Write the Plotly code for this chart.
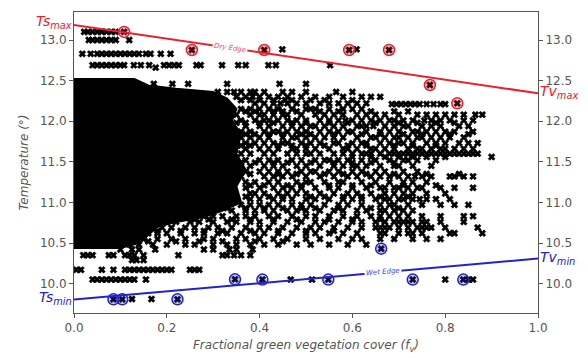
import plotly.graph_objects as go

# ---- edge endpoints (temperature at fv=0 and fv=1) ----
ts_max = 13.185
tv_max = 12.344
ts_min = 9.803
tv_min = 10.308

# ---- saturated core of the point cloud (boundary of fully black area) ----
core_x = [0.0, 0.13, 0.16, 0.22, 0.30, 0.33, 0.35, 0.34, 0.36, 0.35, 0.37, 0.35, 0.36, 0.32, 0.28,
          0.22, 0.18, 0.16, 0.14, 0.10, 0.0]
core_y = [12.52, 12.52, 12.44, 12.40, 12.36, 12.28, 12.15, 12.0, 11.85, 11.6, 11.4, 11.2, 11.0, 10.9,
          10.82, 10.76, 10.70, 10.6, 10.5, 10.44, 10.44]

# ---- sparse pixels, stored as temperature rows ----
row_levels = [13.10, 13.00, 12.885, 12.83, 12.69, 12.66, 12.46,
              12.36, 12.30, 12.26, 12.22, 12.21, 12.15, 12.12, 12.08, 12.01, 11.98, 11.94, 11.87, 11.84,
              11.80, 11.73, 11.70, 11.66, 11.60, 11.56, 11.52, 11.49, 11.45, 11.38, 11.35, 11.32, 11.25,
              11.21, 11.18, 11.11, 11.07, 11.04, 10.97, 10.93, 10.90, 10.83, 10.79, 10.76, 10.69, 10.65,
              10.62, 10.55, 10.52, 10.48, 10.42, 10.35, 10.29, 10.17, 10.05, 9.81]
row_fv = [
    [0.022, 0.03, 0.04, 0.05, 0.06, 0.07, 0.08, 0.09],                                        # 13.10
    [0.032, 0.04, 0.05, 0.06, 0.07, 0.08, 0.09, 0.119],                                       # 13.00
    [0.449, 0.609],                                                                           # 12.885
    [0.018, 0.036, 0.05, 0.06, 0.07, 0.08, 0.09, 0.10, 0.11, 0.12, 0.13, 0.14, 0.155, 0.165,
     0.187, 0.208],                                                                           # 12.83
    [0.04, 0.05, 0.06, 0.07, 0.08, 0.09, 0.10, 0.108, 0.129, 0.144, 0.162, 0.194, 0.205, 0.216,
     0.226, 0.264, 0.273, 0.319, 0.354, 0.37, 0.419, 0.435, 0.552],                           # 12.69
    [0.176],                                                                                  # 12.66
    [0.172, 0.212, 0.246, 0.33, 0.443, 0.5],                                                  # 12.46
    [0.31, 0.33, 0.345, 0.36, 0.38, 0.39, 0.41, 0.45, 0.47, 0.50, 0.565, 0.60],               # 12.36
    [0.35, 0.37, 0.385, 0.40, 0.42, 0.44, 0.46, 0.49, 0.52, 0.55, 0.58, 0.62, 0.64, 0.66],    # 12.30
    [0.36, 0.38, 0.40, 0.43, 0.455, 0.47, 0.51, 0.54, 0.60],                                  # 12.26
    [0.39, 0.41, 0.43, 0.445, 0.46, 0.48, 0.5, 0.53, 0.55, 0.57, 0.59, 0.61, 0.63],           # 12.22
    [0.685, 0.695, 0.705, 0.715, 0.725, 0.735, 0.745, 0.76, 0.775, 0.79, 0.80],               # 12.21
    [0.36, 0.38, 0.40, 0.42, 0.44, 0.47, 0.50, 0.51, 0.52, 0.55, 0.58, 0.60, 0.62],           # 12.15
    [0.37, 0.39, 0.43, 0.45, 0.48, 0.53, 0.57, 0.64, 0.69, 0.72],                            # 12.12
    [0.35, 0.38, 0.40, 0.41, 0.43, 0.45, 0.46, 0.49, 0.52, 0.54, 0.56, 0.58, 0.61, 0.63, 0.65,
     0.67, 0.70, 0.74, 0.76, 0.78, 0.80, 0.82, 0.84, 0.865, 0.88],                            # 12.08
    [0.36, 0.39, 0.41, 0.42, 0.44, 0.46, 0.48, 0.50, 0.53, 0.55, 0.57, 0.585, 0.60, 0.62, 0.64,
     0.66, 0.68, 0.69, 0.71, 0.73, 0.755, 0.77, 0.79, 0.81, 0.84, 0.86],                      # 12.01
    [0.35, 0.37, 0.40, 0.43, 0.47, 0.50, 0.55, 0.59, 0.65, 0.70, 0.74, 0.78, 0.82],           # 11.98
    [0.37, 0.40, 0.42, 0.45, 0.47, 0.49, 0.51, 0.52, 0.54, 0.56, 0.58, 0.61, 0.62, 0.63, 0.645,
     0.67, 0.69, 0.71, 0.72, 0.75, 0.77, 0.79, 0.83, 0.85],                                   # 11.94
    [0.36, 0.38, 0.41, 0.43, 0.44, 0.46, 0.48, 0.50, 0.53, 0.55, 0.57, 0.59, 0.60, 0.63, 0.66,
     0.68, 0.70, 0.73, 0.74, 0.76, 0.78, 0.80, 0.82, 0.86],                                   # 11.87
    [0.37, 0.39, 0.42, 0.45, 0.49, 0.51, 0.56, 0.62, 0.66, 0.71, 0.75, 0.81, 0.85],           # 11.84
    [0.36, 0.38, 0.40, 0.42, 0.45, 0.47, 0.48, 0.50, 0.52, 0.54, 0.56, 0.58, 0.61, 0.64, 0.65,
     0.67, 0.69, 0.70, 0.72, 0.74, 0.75, 0.77, 0.79, 0.81, 0.84],                             # 11.80
    [0.37, 0.39, 0.41, 0.43, 0.45, 0.46, 0.49, 0.51, 0.53, 0.56, 0.57, 0.60, 0.62, 0.63, 0.66,
     0.68, 0.70, 0.71, 0.73, 0.76, 0.78, 0.80, 0.83, 0.85, 0.87],                             # 11.73
    [0.36, 0.38, 0.44, 0.47, 0.50, 0.54, 0.59, 0.63, 0.69, 0.73, 0.78],                       # 11.70
    [0.37, 0.40, 0.42, 0.44, 0.47, 0.48, 0.50, 0.52, 0.55, 0.58, 0.59, 0.61, 0.64, 0.65, 0.67,
     0.69, 0.72, 0.74, 0.75, 0.77, 0.79, 0.80, 0.82, 0.84, 0.86],                             # 11.66
    [0.36, 0.38, 0.41, 0.43, 0.46, 0.48, 0.50, 0.51, 0.53, 0.56, 0.58, 0.60, 0.62, 0.63, 0.64,
     0.66, 0.68, 0.69, 0.70, 0.71, 0.72, 0.73, 0.74, 0.75, 0.76, 0.77, 0.78, 0.79, 0.80, 0.81,
     0.82, 0.83, 0.84, 0.85, 0.86, 0.87],                                                     # 11.60
    [0.60, 0.64, 0.67, 0.70, 0.73, 0.76, 0.80, 0.90],                                         # 11.56
    [0.37, 0.40, 0.42, 0.44, 0.47, 0.49, 0.52, 0.54, 0.55, 0.57, 0.59, 0.62, 0.65, 0.68, 0.71,
     0.72, 0.74, 0.78],                                                                       # 11.52
    [0.36, 0.39, 0.43, 0.46, 0.51, 0.56, 0.60, 0.64, 0.69],                                   # 11.49
    [0.38, 0.41, 0.43, 0.45, 0.48, 0.50, 0.53, 0.56, 0.58, 0.60, 0.61, 0.63, 0.66, 0.69, 0.70,
     0.73, 0.77],                                                                             # 11.45
    [0.37, 0.40, 0.42, 0.44, 0.46, 0.49, 0.51, 0.52, 0.55, 0.57, 0.60, 0.62, 0.65, 0.67, 0.71,
     0.74],                                                                                   # 11.38
    [0.38, 0.44, 0.48, 0.54, 0.58, 0.63, 0.69, 0.76, 0.83],                                   # 11.35
    [0.36, 0.41, 0.43, 0.45, 0.47, 0.50, 0.53, 0.56, 0.59, 0.61, 0.64, 0.66, 0.68, 0.70, 0.72,
     0.735, 0.75, 0.77, 0.81, 0.82, 0.84, 0.86],                                              # 11.32
    [0.37, 0.39, 0.42, 0.44, 0.48, 0.50, 0.51, 0.54, 0.57, 0.58, 0.62, 0.65, 0.68, 0.71, 0.73,
     0.76],                                                                                   # 11.25
    [0.38, 0.41, 0.46, 0.49, 0.55, 0.60, 0.64, 0.71, 0.78],                                   # 11.21
    [0.37, 0.40, 0.43, 0.45, 0.47, 0.49, 0.52, 0.55, 0.57, 0.60, 0.63, 0.66, 0.67, 0.69, 0.70,
     0.72, 0.74, 0.75, 0.79, 0.82, 0.86],                                                     # 11.18
    [0.38, 0.39, 0.41, 0.44, 0.46, 0.48, 0.50, 0.53, 0.56, 0.59, 0.61, 0.64, 0.67, 0.69, 0.71,
     0.73, 0.76, 0.80],                                                                       # 11.11
    [0.37, 0.42, 0.45, 0.51, 0.54, 0.58, 0.62, 0.66, 0.72],                                   # 11.07
    [0.38, 0.40, 0.43, 0.45, 0.47, 0.50, 0.52, 0.55, 0.58, 0.60, 0.62, 0.65, 0.67, 0.68, 0.70,
     0.71, 0.73, 0.745, 0.76, 0.78, 0.81],                                                    # 11.04
    [0.36, 0.38, 0.40, 0.42, 0.44, 0.47, 0.49, 0.51, 0.54, 0.57, 0.59, 0.62, 0.66, 0.68, 0.69,
     0.72, 0.75, 0.79, 0.82, 0.85],                                                           # 10.97
    [0.33, 0.37, 0.41, 0.45, 0.49, 0.52, 0.57, 0.64, 0.70],                                   # 10.93
    [0.34, 0.37, 0.39, 0.41, 0.43, 0.46, 0.48, 0.50, 0.53, 0.56, 0.58, 0.61, 0.63, 0.66, 0.67,
     0.69, 0.71, 0.73],                                                                       # 10.90
    [0.28, 0.30, 0.32, 0.35, 0.37, 0.39, 0.42, 0.44, 0.47, 0.50, 0.52, 0.55, 0.58, 0.61, 0.64,
     0.66, 0.68, 0.70, 0.72, 0.75, 0.79, 0.84, 0.86],                                         # 10.83
    [0.26, 0.29, 0.34, 0.38, 0.43, 0.48, 0.55, 0.60, 0.66],                                   # 10.79
    [0.20, 0.22, 0.25, 0.27, 0.30, 0.33, 0.35, 0.38, 0.40, 0.43, 0.46, 0.49, 0.52, 0.54, 0.57,
     0.60, 0.62, 0.65, 0.67, 0.69, 0.70, 0.71, 0.72, 0.73, 0.75, 0.76, 0.79, 0.84],           # 10.76
    [0.17, 0.19, 0.21, 0.24, 0.26, 0.29, 0.31, 0.34, 0.37, 0.40, 0.42, 0.45, 0.48, 0.51, 0.53,
     0.56, 0.59, 0.62, 0.65, 0.66, 0.67, 0.68, 0.70, 0.72, 0.74, 0.75, 0.76, 0.77, 0.80, 0.87],  # 10.69
    [0.18, 0.23, 0.28, 0.32, 0.38, 0.44, 0.50, 0.56],                                         # 10.65
    [0.16, 0.18, 0.20, 0.23, 0.26, 0.28, 0.31, 0.33, 0.36, 0.39, 0.41, 0.44, 0.47, 0.50, 0.52,
     0.55, 0.58, 0.61, 0.66, 0.67, 0.70, 0.72, 0.73, 0.75, 0.81, 0.82, 0.88],                 # 10.62
    [0.15, 0.18, 0.21, 0.24, 0.28, 0.30, 0.35, 0.37, 0.40, 0.43, 0.46, 0.50, 0.53, 0.57, 0.60,
     0.62, 0.66, 0.69, 0.73, 0.76, 0.79],                                                     # 10.55
    [0.16, 0.22, 0.27, 0.32, 0.39, 0.45],                                                     # 10.52
    [0.12, 0.14, 0.17, 0.20, 0.24, 0.26, 0.30, 0.33, 0.35, 0.38, 0.41, 0.44, 0.48, 0.51, 0.55,
     0.59, 0.63],                                                                             # 10.48
    [0.10, 0.125, 0.14, 0.175, 0.28, 0.30, 0.335, 0.35, 0.385],                               # 10.42
    [0.02, 0.03, 0.04, 0.075, 0.085, 0.11, 0.12, 0.13, 0.15, 0.225, 0.32, 0.33, 0.345, 0.36,
     0.38],                                                                                   # 10.35
    [0.125, 0.135, 0.15],                                                                     # 10.29
    [0.005, 0.015, 0.06, 0.085, 0.11, 0.12, 0.13, 0.14, 0.15, 0.16, 0.17, 0.18, 0.19, 0.20,
     0.21, 0.25, 0.26, 0.27],                                                                 # 10.17
    [0.04, 0.05, 0.06, 0.07, 0.08, 0.09, 0.10, 0.11, 0.12, 0.13, 0.155, 0.467, 0.513, 0.80,
     0.85, 0.86],                                                                             # 10.05
    [0.125, 0.167],                                                                           # 9.81
]

# ---- selected dry-edge and wet-edge points ----
dry_fv = [0.108, 0.254, 0.41, 0.593, 0.679, 0.767, 0.826]
dry_t = [13.10, 12.877, 12.877, 12.877, 12.877, 12.446, 12.22]
wet_fv = [0.085, 0.104, 0.223, 0.347, 0.406, 0.548, 0.662, 0.73, 0.839]
wet_t = [9.806, 9.806, 9.806, 10.053, 10.05, 10.05, 10.43, 10.05, 10.05]

x_ticks = [0.0, 0.2, 0.4, 0.6, 0.8, 1.0]
y_ticks = [10.0, 10.5, 11.0, 11.5, 12.0, 12.5, 13.0]
y_range = [9.638, 13.345]

RED = "#e8222c"
BLUE = "#2323c8"
GRAY = "#555555"
FONT = "DejaVu Sans"

pts_x, pts_y = [], []
for lvl, xs in zip(row_levels, row_fv):
    for xv in xs:
        pts_x.append(xv)
        pts_y.append(lvl)

fig = go.Figure()

fig.add_trace(go.Scatter(x=core_x, y=core_y, mode="lines", fill="toself",
                         fillcolor="black", line=dict(width=2, color="black"),
                         hoverinfo="skip", showlegend=False))
fig.add_trace(go.Scatter(x=pts_x + dry_fv + wet_fv, y=pts_y + dry_t + wet_t, mode="markers",
                         marker=dict(symbol="x", size=6, color="black",
                                     line=dict(width=0.6, color="black")),
                         showlegend=False))

# edges
fig.add_trace(go.Scatter(x=[0, 1], y=[ts_max, tv_max], mode="lines",
                         line=dict(color=RED, width=2), showlegend=False))
fig.add_trace(go.Scatter(x=[0, 1], y=[ts_min, tv_min], mode="lines",
                         line=dict(color=BLUE, width=2), showlegend=False))

fig.add_trace(go.Scatter(x=dry_fv, y=dry_t, mode="markers",
                         marker=dict(symbol="circle", size=11, color="rgba(225,40,50,0.25)",
                                     line=dict(color=RED, width=1.5)), showlegend=False))
fig.add_trace(go.Scatter(x=wet_fv, y=wet_t, mode="markers",
                         marker=dict(symbol="circle", size=11, color="rgba(40,40,200,0.25)",
                                     line=dict(color=BLUE, width=1.5)), showlegend=False))

# invisible trace for the right axis
fig.add_trace(go.Scatter(x=[0.5], y=[11.5], yaxis="y2", mode="markers",
                         marker=dict(opacity=0), hoverinfo="skip", showlegend=False))

ann = []
ann.append(dict(x=0, y=ts_max, xref="x", yref="y", xanchor="right", yanchor="middle", yshift=3,
                text="Ts<sub>max</sub>", showarrow=False,
                font=dict(family=FONT, size=14, color=RED, style="italic")))
ann.append(dict(x=0, y=ts_min, xref="x", yref="y", xanchor="right", yanchor="middle", yshift=2,
                text="Ts<sub>min</sub>", showarrow=False,
                font=dict(family=FONT, size=14, color=BLUE, style="italic")))
ann.append(dict(x=1, y=tv_max, xref="x", yref="y", xanchor="left", yanchor="middle", yshift=1,
                text="Tv<sub>max</sub>", showarrow=False,
                font=dict(family=FONT, size=14, color=RED, style="italic")))
ann.append(dict(x=1, y=tv_min, xref="x", yref="y", xanchor="left", yanchor="middle", yshift=1,
                text="Tv<sub>min</sub>", showarrow=False,
                font=dict(family=FONT, size=14, color=BLUE, style="italic")))
dry_lbl_x = 0.336
wet_lbl_x = 0.666
ann.append(dict(x=dry_lbl_x, y=ts_max + (tv_max - ts_max) * dry_lbl_x, xref="x", yref="y",
                text="Dry Edge", showarrow=False, textangle=8.4, bgcolor="white", borderpad=1,
                font=dict(family=FONT, size=7, color="#e8506a", style="italic")))
ann.append(dict(x=wet_lbl_x, y=ts_min + (tv_min - ts_min) * wet_lbl_x, xref="x", yref="y",
                text="Wet Edge", showarrow=False, textangle=-5, bgcolor="white", borderpad=1,
                font=dict(family=FONT, size=7, color="#4545d8", style="italic")))

axis_common = dict(showgrid=False, zeroline=False, ticks="outside", ticklen=4, tickwidth=1,
                   tickcolor=GRAY, linecolor=GRAY, linewidth=1, automargin=False,
                   tickfont=dict(family=FONT, size=12, color=GRAY))

# the page body adds an 8px offset, so the figure is 8px smaller than the window
fig.update_layout(
    width=580, height=350,
    margin=dict(l=66, r=50, t=4, b=45),
    plot_bgcolor="white", paper_bgcolor="white",
    showlegend=False,
    annotations=ann,
    xaxis=dict(range=[0, 1], tickvals=x_ticks, ticktext=[f"{v:.1f}" for v in x_ticks],
               mirror=True, showline=True,
               title=dict(text="Fractional green vegetation cover (f<sub>v</sub>)", standoff=6,
                          font=dict(family=FONT, size=12, color=GRAY, style="italic")),
               **axis_common),
    yaxis=dict(range=y_range, tickvals=y_ticks, ticktext=[f"{v:.1f}" for v in y_ticks],
               mirror=True, showline=True,
               title=dict(text="Temperature (°)", standoff=8,
                          font=dict(family=FONT, size=12, color=GRAY, style="italic")),
               **axis_common),
    yaxis2=dict(range=y_range, tickvals=y_ticks, ticktext=[f"{v:.1f}" for v in y_ticks],
                overlaying="y", side="right", showline=False, **axis_common),
)

fig.write_html("out.html")
